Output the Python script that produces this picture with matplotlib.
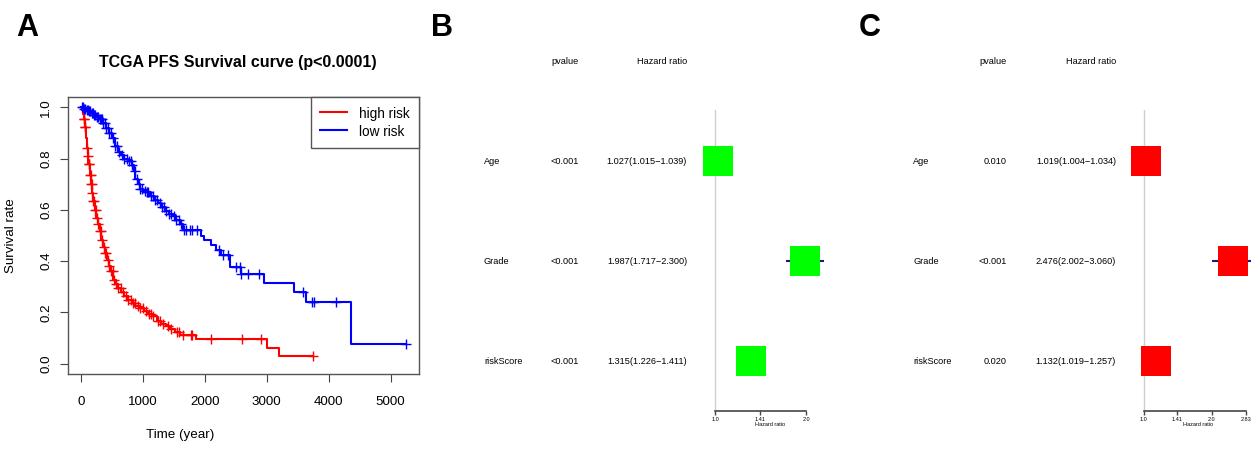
import matplotlib
matplotlib.use("Agg")
import matplotlib.pyplot as plt
import numpy as np

plt.rcParams['font.family'] = ['Liberation Sans', 'DejaVu Sans']

W, H = 1251, 449

# ---------------- Panel A: Kaplan-Meier curves ----------------
high_t = [0, 15, 30, 45, 60, 75, 90, 105, 120, 140, 160, 180, 200, 225, 250, 275,
          300, 330, 360, 390, 420, 450, 480, 520, 560, 600, 650, 700, 760, 820,
          880, 950, 1020, 1090, 1160, 1230, 1300, 1370, 1440, 1520, 1600, 1860,
          3000, 3200, 3750]
high_s = [1.0, 0.99, 0.975, 0.955, 0.922, 0.88, 0.84, 0.81, 0.78, 0.735, 0.70,
          0.665, 0.635, 0.60, 0.57, 0.545, 0.516, 0.484, 0.455, 0.43, 0.405,
          0.38, 0.36, 0.327, 0.31, 0.295, 0.28, 0.265, 0.248, 0.235, 0.225,
          0.216, 0.205, 0.195, 0.185, 0.168, 0.155, 0.148, 0.137, 0.124, 0.111,
          0.095, 0.063, 0.031, 0.031]
high_cens = [45, 55, 65, 70, 100, 110, 125, 135, 145, 155, 165, 175, 185, 200,
             215, 230, 245, 260, 280, 300, 320, 345, 370, 390, 410, 430, 460,
             490, 510, 540, 570, 600, 640, 680, 720, 760, 800, 840, 870, 920,
             960, 1000, 1050, 1100, 1130, 1160, 1250, 1280, 1320, 1400, 1450,
             1550, 1580, 1640, 1780, 1800, 2105, 2600, 2912, 3750]

low_t = [0, 40, 80, 120, 160, 200, 250, 300, 350, 400, 450, 500, 550, 600, 650,
         700, 760, 820, 850, 880, 920, 960, 1000, 1060, 1120, 1180, 1240, 1300,
         1360, 1420, 1480, 1540, 1600, 1650, 1944, 1981, 2105, 2186, 2266, 2400,
         2589, 2950, 3440, 3639, 4354, 5253]
low_s = [1.0, 0.995, 0.99, 0.985, 0.978, 0.97, 0.962, 0.954, 0.938, 0.92, 0.9,
         0.88, 0.85, 0.825, 0.812, 0.8, 0.79, 0.775, 0.75, 0.72, 0.7, 0.682,
         0.675, 0.668, 0.655, 0.64, 0.625, 0.61, 0.595, 0.585, 0.575, 0.562,
         0.545, 0.522, 0.499, 0.481, 0.464, 0.444, 0.425, 0.379, 0.350, 0.316,
         0.281, 0.239, 0.078, 0.078]
low_cens = [10, 30, 50, 70, 90, 110, 130, 150, 170, 190, 210, 230, 260, 280,
            300, 320, 340, 360, 380, 400, 430, 460, 490, 520, 550, 580, 620,
            660, 700, 740, 780, 800, 830, 870, 900, 930, 960, 990, 1030, 1060,
            1090, 1130, 1160, 1200, 1230, 1270, 1310, 1340, 1380, 1420, 1460,
            1500, 1540, 1580, 1620, 1660, 1700, 1760, 1800, 1870, 2225, 2290,
            2370, 2508, 2562, 2589, 2690, 2870, 3580, 3735, 3758, 4112, 5253]

x_ticks = [0, 1000, 2000, 3000, 4000, 5000]
y_ticks = [0.0, 0.2, 0.4, 0.6, 0.8, 1.0]

# ---------------- Panels B/C: forest plots ----------------
variables = ["Age", "Grade", "riskScore"]
b_pvalue = ["<0.001", "<0.001", "<0.001"]
b_hr = [1.027, 1.987, 1.315]
b_low = [1.015, 1.717, 1.226]
b_high = [1.039, 2.300, 1.411]
b_ticks = [1.0, 1.41, 2.0]
b_ticklabels = ["1.0", "1.41", "2.0"]

c_pvalue = ["0.010", "<0.001", "0.020"]
c_hr = [1.019, 2.476, 1.132]
c_low = [1.004, 2.002, 1.019]
c_high = [1.034, 3.060, 1.257]
c_ticks = [1.0, 1.41, 2.0, 2.83]
c_ticklabels = ["1.0", "1.41", "2.0", "2.83"]


def px_axes(fig, left, top, right, bottom):
    return fig.add_axes([left / W, 1 - bottom / H, (right - left) / W, (bottom - top) / H])


def ftext(fig, x, y, s, **kw):
    fig.text(x / W, 1 - y / H, s, **kw)


fig = plt.figure(figsize=(W / 100, H / 100), dpi=100)

ax = px_axes(fig, 68, 97, 419, 374)


def surv_at(ts, ss, t):
    idx = np.searchsorted(ts, t, side="right") - 1
    return np.asarray(ss)[idx]


for ts, ss, cens, col, lab in [(high_t, high_s, high_cens, "#ff0000", "high risk"),
                               (low_t, low_s, low_cens, "#0000ff", "low risk")]:
    ax.step(ts, ss, where="post", color=col, lw=1.5, label=lab)
    ax.plot(cens, surv_at(ts, ss, cens), linestyle="none", marker="+",
            ms=7, mew=1.0, color=col)

ax.set_xlim(-210, 5460)
ax.set_ylim(-0.04, 1.04)
ax.set_xticks(x_ticks)
ax.set_xticklabels([str(v) for v in x_ticks])
ax.set_yticks(y_ticks)
ax.set_yticklabels([f"{v:.1f}" for v in y_ticks], rotation=90, va="center")
ax.tick_params(axis="x", length=6, pad=10, labelsize=9.6, color="#444444")
ax.tick_params(axis="y", length=6, pad=5.5, labelsize=9.6, color="#444444")
for sp in ax.spines.values():
    sp.set_color("#555555")
    sp.set_linewidth(1.0)
leg = ax.legend(loc="upper right", fontsize=9.8, frameon=True, fancybox=False,
                borderaxespad=0, handlelength=1.95, handletextpad=0.88,
                handleheight=1.29, borderpad=0.7, labelspacing=0.18,
                framealpha=1)
leg.get_frame().set_edgecolor("#555555")
leg.get_frame().set_linewidth(1.0)

ftext(fig, 238, 63, "TCGA PFS Survival curve (p<0.0001)", fontsize=11.5,
      fontweight="bold", ha="center", va="center")
ftext(fig, 180, 435, "Time (year)", fontsize=9.6, ha="center", va="center")
ftext(fig, 11, 236, "Survival rate", fontsize=9.6, ha="center", va="center",
      rotation=90)


def forest(fig, name_x, p_x, hr_x, ax_box, hr, lo, hi, pv, ticks, ticklabels,
           color, xlim, label_x):
    fs = 6.6
    rows_y = [161, 261, 361]
    ftext(fig, p_x, 62, "pvalue", fontsize=fs, ha="right", va="center")
    ftext(fig, hr_x, 62, "Hazard ratio", fontsize=fs, ha="right", va="center")
    for i, name in enumerate(variables):
        y = rows_y[i]
        ftext(fig, name_x, y, name, fontsize=fs, ha="left", va="center")
        ftext(fig, p_x, y, pv[i], fontsize=fs, ha="right", va="center")
        ftext(fig, hr_x, y, f"{hr[i]:.3f}({lo[i]:.3f}\u2212{hi[i]:.3f})",
              fontsize=fs, ha="right", va="center")

    fx = px_axes(fig, *ax_box)
    fx.set_xscale("log", base=2)
    fx.set_xlim(*xlim)
    fx.set_ylim(0.5, 3.51)
    fx.axvline(1.0, color="#cfcfcf", lw=1.0, zorder=1)
    ys = [3, 2, 1]
    fx.hlines(ys, lo, hi, color="#1b1b7a", lw=1.5, zorder=2)
    fx.plot(hr, ys, linestyle="none", marker="s", ms=21.6, mew=0,
            color=color, zorder=3)
    for side in ["top", "right", "left"]:
        fx.spines[side].set_visible(False)
    fx.spines["bottom"].set_bounds(ticks[0], ticks[-1])
    fx.spines["bottom"].set_color("#444444")
    fx.spines["bottom"].set_linewidth(1.2)
    fx.set_yticks([])
    fx.set_xticks(ticks)
    fx.set_xticklabels(ticklabels)
    fx.xaxis.set_minor_locator(matplotlib.ticker.NullLocator())
    fx.tick_params(axis="x", length=3, width=1.0, pad=1.5, labelsize=4.0,
                   color="#444444")
    fx.patch.set_alpha(0)
    ftext(fig, label_x, 425, "Hazard ratio", fontsize=4.0, ha="center",
          va="center")


forest(fig, 484, 579, 687, (690, 110, 840, 411), b_hr, b_low, b_high,
       b_pvalue, b_ticks, b_ticklabels, "#00ff00", (2 ** (-0.2747), 2 ** 1.3736),
       770)
forest(fig, 913, 1007, 1116, (1120, 110, 1251, 411), c_hr, c_low, c_high,
       c_pvalue, c_ticks, c_ticklabels, "#ff0000", (2 ** (-0.3485), 2 ** 1.578),
       1198)

for lab, x in [("A", 27), ("B", 442), ("C", 870)]:
    ftext(fig, x, 28, lab, fontsize=22, fontweight="bold", ha="center",
          va="center")

fig.savefig("out.png", dpi=100)
